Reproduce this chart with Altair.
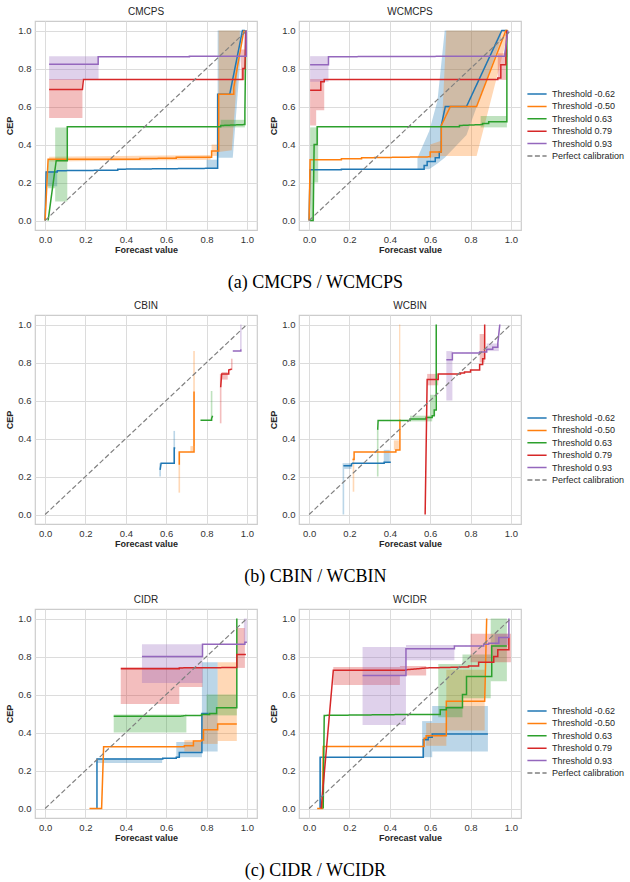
import altair as alt
import pandas as pd

SERIES = ["Threshold -0.62", "Threshold -0.50", "Threshold 0.63", "Threshold 0.79", "Threshold 0.93"]
DIAG = "Perfect calibration"
COLORS = ["#1f77b4", "#ff7f0e", "#2ca02c", "#d62728", "#9467bd"]
DIAG_COLOR = "#808080"
TICKS = [0.0, 0.2, 0.4, 0.6, 0.8, 1.0]
DIAG_PTS = [(0.0, 0.0), (1.0, 1.0)]

# ---------------- CMCPS ----------------
CMCPS_L1 = [(0.0, 0.0), (0.005, 0.255), (0.06, 0.255), (0.06, 0.262), (0.36, 0.265), (0.36, 0.27), (0.855, 0.275), (0.855, 0.665), (0.915, 0.665), (0.978, 1.0), (0.99, 1.0)]
CMCPS_L2 = [(0.0, 0.0), (0.015, 0.322), (0.47, 0.322), (0.47, 0.326), (0.65, 0.328), (0.65, 0.333), (0.825, 0.333), (0.825, 0.366), (0.86, 0.366), (0.86, 0.665), (0.935, 0.665), (0.935, 0.7), (0.985, 1.0)]
CMCPS_L3 = [(0.015, 0.0), (0.055, 0.315), (0.11, 0.315), (0.11, 0.494), (0.87, 0.494), (0.87, 0.5), (0.99, 0.505), (0.99, 0.57), (0.995, 1.0)]
CMCPS_L4 = [(0.02, 0.69), (0.185, 0.69), (0.19, 0.742), (0.98, 0.742), (0.98, 0.80), (0.99, 0.80), (0.995, 1.0)]
CMCPS_L5 = [(0.02, 0.822), (0.263, 0.822), (0.263, 0.862), (0.715, 0.862), (0.715, 0.865), (0.997, 0.865), (0.997, 1.0)]
CMCPS_B1 = [[(0.005, 0.18, 0.26), (0.06, 0.18, 0.26)], [(0.8, 0.276, 0.32), (0.855, 0.276, 0.32)], [(0.855, 0.33, 1.0), (0.93, 0.33, 1.0), (0.975, 0.95, 1.0)]]
CMCPS_B2 = [[(0.02, 0.31, 0.335), (0.82, 0.32, 0.345)], [(0.825, 0.34, 0.4), (0.86, 0.34, 0.4)], [(0.86, 0.36, 1.0), (0.925, 0.37, 1.0), (0.965, 0.95, 1.0)]]
CMCPS_B3 = [[(0.015, 0.17, 0.32), (0.05, 0.17, 0.32), (0.05, 0.1, 0.49), (0.11, 0.1, 0.49)], [(0.87, 0.49, 0.53), (0.99, 0.49, 0.53)]]
CMCPS_B4 = [[(0.02, 0.54, 0.745), (0.185, 0.54, 0.745)], [(0.97, 0.74, 0.9), (0.99, 0.74, 0.9)]]
CMCPS_B5 = [[(0.02, 0.74, 0.865), (0.265, 0.74, 0.865)], [(0.985, 0.86, 1.0), (0.995, 0.86, 1.0)]]

# ---------------- WCMCPS ----------------
WCMCPS_L1 = [(0.0, 0.0), (0.005, 0.267), (0.16, 0.267), (0.16, 0.27), (0.57, 0.27), (0.57, 0.29), (0.585, 0.29), (0.585, 0.31), (0.625, 0.31), (0.625, 0.33), (0.645, 0.33), (0.645, 0.36), (0.655, 0.36), (0.655, 0.5), (0.675, 0.6), (0.78, 0.6), (0.955, 1.0), (0.98, 1.0)]
WCMCPS_L2 = [(0.0, 0.0), (0.005, 0.32), (0.16, 0.32), (0.16, 0.325), (0.26, 0.325), (0.26, 0.33), (0.6, 0.335), (0.6, 0.36), (0.655, 0.36), (0.655, 0.5), (0.7, 0.6), (0.83, 0.6), (0.975, 1.0), (0.985, 1.0)]
WCMCPS_L3 = [(0.005, 0.0), (0.02, 0.0), (0.025, 0.4), (0.04, 0.4), (0.04, 0.494), (0.745, 0.494), (0.745, 0.5), (0.86, 0.505), (0.86, 0.51), (0.89, 0.51), (0.89, 0.52), (0.98, 0.52), (0.98, 1.0)]
WCMCPS_L4 = [(0.005, 0.685), (0.058, 0.685), (0.058, 0.73), (0.075, 0.73), (0.075, 0.742), (0.935, 0.742), (0.935, 0.75), (0.95, 0.75), (0.95, 0.82), (0.975, 0.82), (0.975, 0.88), (0.98, 1.0)]
WCMCPS_L5 = [(0.005, 0.82), (0.096, 0.82), (0.096, 0.862), (0.97, 0.865), (0.97, 0.88), (0.985, 1.0)]
WCMCPS_B1 = [[(0.537, 0.27, 0.33), (0.595, 0.27, 0.47), (0.636, 0.3, 0.63), (0.672, 0.33, 1.0), (0.78, 0.45, 1.0), (0.95, 0.95, 1.0)]]
WCMCPS_B2 = [[(0.6, 0.33, 0.4), (0.655, 0.34, 0.42), (0.68, 0.34, 1.0), (0.83, 0.34, 1.0), (0.985, 0.98, 1.0)]]
WCMCPS_B3 = [[(0.005, 0.0, 0.49), (0.025, 0.0, 0.49)], [(0.025, 0.2, 0.49), (0.045, 0.2, 0.49)], [(0.85, 0.49, 0.55), (0.98, 0.49, 0.55)]]
WCMCPS_B4 = [[(0.005, 0.5, 0.745), (0.035, 0.5, 0.745), (0.035, 0.58, 0.745), (0.075, 0.58, 0.745)], [(0.935, 0.74, 0.88), (0.98, 0.74, 0.88)]]
WCMCPS_B5 = [[(0.005, 0.73, 0.865), (0.096, 0.73, 0.865)], [(0.97, 0.86, 0.9), (0.985, 0.86, 0.9)]]

# ---------------- CBIN ----------------
CBIN_L1 = [(0.57, 0.235), (0.575, 0.27), (0.64, 0.27), (0.64, 0.35), (0.645, 0.35)]
CBIN_L2 = [(0.665, 0.262), (0.665, 0.329), (0.738, 0.329), (0.738, 0.647)]
CBIN_L3 = [(0.77, 0.496), (0.825, 0.496), (0.825, 0.505), (0.83, 0.52)]
CBIN_L4 = [(0.87, 0.67), (0.875, 0.74), (0.91, 0.74), (0.91, 0.76), (0.925, 0.766)]
CBIN_L5 = [(0.93, 0.861), (0.97, 0.861), (0.97, 0.87)]
CBIN_B1 = [[(0.566, 0.2, 0.27), (0.574, 0.2, 0.27)], [(0.636, 0.27, 0.44), (0.644, 0.27, 0.44)]]
CBIN_B2 = [[(0.661, 0.115, 0.33), (0.669, 0.115, 0.33)], [(0.72, 0.33, 0.36), (0.734, 0.33, 0.36)], [(0.734, 0.36, 0.86), (0.742, 0.36, 0.86)]]
CBIN_B3 = [[(0.821, 0.5, 0.65), (0.829, 0.5, 0.65)]]
CBIN_B4 = [[(0.866, 0.48, 0.74), (0.874, 0.48, 0.74)], [(0.875, 0.71, 0.75), (0.905, 0.71, 0.75)], [(0.921, 0.76, 0.82), (0.929, 0.76, 0.82)]]
CBIN_B5 = [[(0.966, 0.87, 1.0), (0.974, 0.87, 1.0)]]

# ---------------- WCBIN ----------------
WCBIN_L1 = [(0.17, 0.257), (0.21, 0.257), (0.21, 0.265), (0.215, 0.27), (0.372, 0.27), (0.372, 0.275), (0.405, 0.275)]
WCBIN_L2 = [(0.215, 0.29), (0.223, 0.29), (0.223, 0.329), (0.43, 0.329), (0.43, 0.34), (0.45, 0.34), (0.45, 0.5)]
WCBIN_L3 = [(0.34, 0.446), (0.342, 0.495), (0.5, 0.495), (0.5, 0.503), (0.58, 0.503), (0.58, 0.51), (0.61, 0.51), (0.61, 0.52), (0.62, 0.52), (0.62, 0.55), (0.63, 0.55), (0.63, 1.0)]
WCBIN_L4 = [(0.575, 0.0), (0.585, 0.71), (0.64, 0.71), (0.64, 0.74), (0.75, 0.74), (0.75, 0.745), (0.77, 0.745), (0.77, 0.75), (0.8, 0.75), (0.8, 0.76), (0.845, 0.76), (0.845, 0.79), (0.86, 0.79), (0.86, 0.82), (0.87, 0.82), (0.87, 1.0)]
WCBIN_L5 = [(0.68, 0.815), (0.71, 0.815), (0.71, 0.85), (0.845, 0.85), (0.845, 0.855), (0.88, 0.855), (0.88, 0.87), (0.91, 0.87), (0.91, 0.88), (0.935, 0.88), (0.935, 0.9), (0.945, 1.0)]
WCBIN_B1 = [[(0.166, 0.0, 0.27), (0.174, 0.0, 0.27)], [(0.174, 0.24, 0.27), (0.21, 0.24, 0.27)], [(0.37, 0.27, 0.34), (0.40, 0.27, 0.34)]]
WCBIN_B2 = [[(0.216, 0.12, 0.3), (0.224, 0.12, 0.3)], [(0.42, 0.34, 0.39), (0.445, 0.34, 0.39)], [(0.446, 0.5, 1.0), (0.452, 0.5, 1.0)]]
WCBIN_B3 = [[(0.336, 0.2, 0.45), (0.344, 0.2, 0.45)], [(0.5, 0.49, 0.52), (0.61, 0.49, 0.52)], [(0.6, 0.52, 0.63), (0.625, 0.52, 0.63)]]
WCBIN_B4 = [[(0.585, 0.68, 0.74), (0.64, 0.68, 0.74)], [(0.845, 0.8, 0.95), (0.87, 0.8, 0.95)]]
WCBIN_B5 = [[(0.68, 0.6, 0.86), (0.71, 0.6, 0.86)], [(0.88, 0.86, 0.9), (0.94, 0.86, 0.9)]]

# ---------------- CIDR ----------------
CIDR_L1 = [(0.257, 0.0), (0.257, 0.261), (0.583, 0.261), (0.583, 0.265), (0.65, 0.265), (0.65, 0.27), (0.665, 0.27), (0.665, 0.295), (0.777, 0.295), (0.777, 0.5), (0.81, 0.5)]
CIDR_L2 = [(0.22, 0.0), (0.28, 0.0), (0.29, 0.325), (0.69, 0.325), (0.69, 0.33), (0.735, 0.33), (0.735, 0.355), (0.775, 0.355), (0.775, 0.36), (0.785, 0.36), (0.785, 0.415), (0.855, 0.415), (0.855, 0.445), (0.95, 0.445)]
CIDR_L3 = [(0.34, 0.485), (0.665, 0.485), (0.7, 0.49), (0.775, 0.49), (0.775, 0.495), (0.815, 0.495), (0.815, 0.5), (0.85, 0.5), (0.85, 0.53), (0.95, 0.53), (0.95, 1.0)]
CIDR_L4 = [(0.375, 0.735), (0.665, 0.735), (0.665, 0.74), (0.95, 0.742), (0.95, 0.81), (0.995, 0.81)]
CIDR_L5 = [(0.48, 0.8), (0.78, 0.8), (0.78, 0.865), (0.99, 0.865), (0.99, 0.875), (1.0, 0.875)]
CIDR_B1 = [[(0.257, 0.24, 0.265), (0.58, 0.24, 0.265)], [(0.65, 0.27, 0.35), (0.777, 0.27, 0.35)], [(0.777, 0.3, 0.77), (0.855, 0.3, 0.77)]]
CIDR_B2 = [[(0.69, 0.3, 0.36), (0.775, 0.3, 0.36)], [(0.775, 0.34, 0.5), (0.855, 0.34, 0.5)], [(0.855, 0.355, 0.77), (0.95, 0.355, 0.77)]]
CIDR_B3 = [[(0.34, 0.4, 0.495), (0.7, 0.4, 0.495)], [(0.8, 0.49, 0.6), (0.95, 0.49, 0.6)]]
CIDR_B4 = [[(0.375, 0.55, 0.745), (0.665, 0.55, 0.745), (0.665, 0.64, 0.745), (0.78, 0.64, 0.745)], [(0.95, 0.74, 0.95), (0.99, 0.74, 0.95)]]
CIDR_B5 = [[(0.48, 0.66, 0.865), (0.78, 0.66, 0.865)], [(0.985, 0.87, 1.0), (1.0, 0.87, 1.0)]]

# ---------------- WCIDR ----------------
WCIDR_L1 = [(0.055, 0.0), (0.055, 0.27), (0.566, 0.27), (0.566, 0.362), (0.59, 0.362), (0.59, 0.375), (0.61, 0.375), (0.61, 0.392), (0.886, 0.392)]
WCIDR_L2 = [(0.04, 0.0), (0.066, 0.0), (0.07, 0.326), (0.57, 0.326), (0.57, 0.37), (0.58, 0.37), (0.58, 0.383), (0.68, 0.383), (0.68, 0.564), (0.87, 0.564), (0.88, 1.0)]
WCIDR_L3 = [(0.07, 0.0), (0.075, 0.49), (0.5, 0.495), (0.65, 0.495), (0.65, 0.52), (0.68, 0.52), (0.68, 0.53), (0.76, 0.53), (0.76, 0.6), (0.78, 0.6), (0.78, 0.695), (0.905, 0.695), (0.905, 0.855), (0.98, 0.855)]
WCIDR_L4 = [(0.06, 0.0), (0.12, 0.727), (0.48, 0.727), (0.48, 0.73), (0.585, 0.74), (0.79, 0.745), (0.79, 0.75), (0.84, 0.75), (0.84, 0.77), (0.915, 0.77), (0.915, 0.8), (0.935, 0.8), (0.935, 0.835), (0.99, 0.835), (0.99, 0.9)]
WCIDR_L5 = [(0.265, 0.7), (0.48, 0.7), (0.48, 0.841), (0.72, 0.841), (0.72, 0.855), (0.865, 0.855), (0.865, 0.865), (0.89, 0.865), (0.89, 0.87), (0.94, 0.87), (0.94, 0.9), (0.99, 0.9), (0.99, 1.0)]
WCIDR_B1 = [[(0.05, 0.0, 0.27), (0.06, 0.0, 0.27)], [(0.56, 0.27, 0.46), (0.61, 0.27, 0.46)], [(0.61, 0.3, 0.54), (0.886, 0.3, 0.54)]]
WCIDR_B2 = [[(0.58, 0.33, 0.45), (0.68, 0.33, 0.45)], [(0.68, 0.41, 0.73), (0.87, 0.41, 0.73)]]
WCIDR_B3 = [[(0.64, 0.48, 0.76), (0.76, 0.48, 0.76)], [(0.76, 0.58, 0.81), (0.9, 0.58, 0.81)], [(0.9, 0.67, 1.0), (0.98, 0.67, 1.0)]]
WCIDR_B4 = [[(0.12, 0.65, 0.745), (0.45, 0.65, 0.745)], [(0.45, 0.7, 0.75), (0.58, 0.7, 0.75)], [(0.8, 0.77, 0.92), (1.0, 0.77, 0.92)]]
WCIDR_B5 = [[(0.265, 0.44, 0.85), (0.48, 0.44, 0.85)], [(0.48, 0.78, 0.86), (0.72, 0.78, 0.86)], [(0.92, 0.86, 0.92), (0.99, 0.86, 0.92)]]

ROWS = [
    ("(a) CMCPS / WCMCPS",
     ("CMCPS", [CMCPS_L1, CMCPS_L2, CMCPS_L3, CMCPS_L4, CMCPS_L5], [CMCPS_B1, CMCPS_B2, CMCPS_B3, CMCPS_B4, CMCPS_B5]),
     ("WCMCPS", [WCMCPS_L1, WCMCPS_L2, WCMCPS_L3, WCMCPS_L4, WCMCPS_L5], [WCMCPS_B1, WCMCPS_B2, WCMCPS_B3, WCMCPS_B4, WCMCPS_B5]),
     67),
    ("(b) CBIN / WCBIN",
     ("CBIN", [CBIN_L1, CBIN_L2, CBIN_L3, CBIN_L4, CBIN_L5], [CBIN_B1, CBIN_B2, CBIN_B3, CBIN_B4, CBIN_B5]),
     ("WCBIN", [WCBIN_L1, WCBIN_L2, WCBIN_L3, WCBIN_L4, WCBIN_L5], [WCBIN_B1, WCBIN_B2, WCBIN_B3, WCBIN_B4, WCBIN_B5]),
     97),
    ("(c) CIDR / WCIDR",
     ("CIDR", [CIDR_L1, CIDR_L2, CIDR_L3, CIDR_L4, CIDR_L5], [CIDR_B1, CIDR_B2, CIDR_B3, CIDR_B4, CIDR_B5]),
     ("WCIDR", [WCIDR_L1, WCIDR_L2, WCIDR_L3, WCIDR_L4, WCIDR_L5], [WCIDR_B1, WCIDR_B2, WCIDR_B3, WCIDR_B4, WCIDR_B5]),
     96),
]

W, H = 222, 209
FONT = "Liberation Sans"
TXT = "#262626"

STROKE_SCALE = alt.Scale(domain=SERIES + [DIAG], range=COLORS + [DIAG_COLOR])
DASH_SCALE = alt.Scale(domain=SERIES + [DIAG], range=[[1, 0]] * 5 + [[5, 2.5]])
FILL_SCALE = alt.Scale(domain=SERIES, range=COLORS)
XS = alt.Scale(domain=[-0.05, 1.05], nice=False, zero=False)
YS = alt.Scale(domain=[-0.05, 1.05], nice=False, zero=False)


def line_df(lines):
    rows = []
    for name, pts in zip(SERIES, lines):
        for i, (x, y) in enumerate(pts):
            rows.append({"s": name, "x": x, "y": y, "i": i})
    return pd.DataFrame(rows)


def band_df(bands):
    rows = []
    for name, segs in zip(SERIES, bands):
        for k, seg in enumerate(segs):
            for i, (x, lo, hi) in enumerate(seg):
                rows.append({"s": name, "g": f"{name}-{k}", "bx": x, "lo": lo, "hi": hi})
    return pd.DataFrame(rows)


def diag_df():
    return pd.DataFrame([{"s": DIAG, "x": x, "y": y, "i": i} for i, (x, y) in enumerate(DIAG_PTS)])


def panel(title, lines, bands, legend_y):
    if legend_y is not None:
        leg = alt.Legend(orient="none", legendX=W + 10, legendY=legend_y, title=None,
                         symbolType="M-1.83,0H1.83", symbolSize=110, symbolStrokeWidth=1.5,
                         labelFontSize=9, labelFont=FONT, labelColor=TXT, labelOffset=9,
                         rowPadding=1.4, padding=0)
    else:
        leg = None
    xax = alt.Axis(values=TICKS, format=".1f", title="Forecast value")
    yax = alt.Axis(values=TICKS, format=".1f", title="CEP")
    band = alt.Chart(band_df(bands)).mark_area(opacity=0.3).encode(
        x=alt.X("bx:Q", scale=XS, axis=xax),
        y=alt.Y("lo:Q", scale=YS, axis=yax),
        y2=alt.Y2("hi:Q"),
        color=alt.Color("s:N", scale=FILL_SCALE, legend=None),
        detail="g:N",
    )
    line = alt.Chart(line_df(lines)).mark_line(strokeWidth=1.5).encode(
        x=alt.X("x:Q", scale=XS),
        y=alt.Y("y:Q", scale=YS),
        stroke=alt.Stroke("s:N", scale=STROKE_SCALE, legend=leg),
        strokeDash=alt.StrokeDash("s:N", scale=DASH_SCALE, legend=leg),
        order="i:Q",
    )
    diag = alt.Chart(diag_df()).mark_line(strokeWidth=1.2).encode(
        x=alt.X("x:Q", scale=XS),
        y=alt.Y("y:Q", scale=YS),
        stroke=alt.Stroke("s:N", scale=STROKE_SCALE, legend=leg),
        strokeDash=alt.StrokeDash("s:N", scale=DASH_SCALE, legend=leg),
        order="i:Q",
    )
    return alt.layer(band, line, diag).properties(
        width=W, height=H,
        title=alt.TitleParams(title, fontSize=10, font=FONT, fontWeight="normal", color=TXT, offset=4, anchor="middle"),
    )


rows = []
for caption, left, right, ly in ROWS:
    lp = panel(left[0], left[1], left[2], None)
    rp = panel(right[0], right[1], right[2], ly)
    row = alt.hconcat(lp, rp, spacing=11).resolve_scale(
        stroke="independent", strokeDash="independent", color="independent"
    ).properties(
        title=alt.TitleParams(caption, orient="bottom", font="Liberation Serif", fontSize=18,
                              fontWeight="normal", color="black", anchor="middle", offset=19)
    )
    rows.append(row)

chart = alt.vconcat(*rows, spacing=7).resolve_scale(
    stroke="independent", strokeDash="independent", color="independent"
).properties(
    padding={"left": 5, "top": 6, "right": 0, "bottom": 0}
).configure_view(
    stroke="#cccccc", strokeWidth=1.2
).configure_axis(
    gridColor="#dcdcdc", gridWidth=1, domain=False, ticks=False,
    labelFont=FONT, labelFontSize=9.5, labelColor="#333333", labelPadding=4,
    titleFont=FONT, titleFontSize=9, titleFontWeight="bold", titleColor=TXT,
).configure_axisX(titlePadding=2).configure_axisY(titlePadding=3)

chart.save("out.html", embed_options={"renderer": "svg", "actions": False})
